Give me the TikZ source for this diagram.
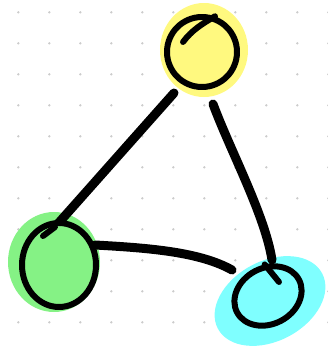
\documentclass[tikz,border=0pt]{standalone}
\usepackage{tikz}
\usetikzlibrary{shapes.geometric}
\definecolor{hlyellow}{HTML}{FFF97F}
\definecolor{hlgreen}{HTML}{85F285}
\definecolor{hlcyan}{HTML}{7FFFFF}
\begin{document}
\begin{tikzpicture}[x=1pt,y=-1pt,line cap=round,line join=round,
  blob/.style={ellipse,inner sep=0pt,fill=#1},
  ring/.style={ellipse,inner sep=0pt,draw=black,line width=6pt,fill=#1},
  stroke/.style={line width=9pt,black}]
\useasboundingbox (0,0) rectangle (328,351);
\foreach \i in {0,...,10}
  \foreach \j in {0,...,10}
    \fill[black!20] (18.3+31*\i,12.3+31*\j) circle (1.3);
\node[blob=hlyellow,minimum width=88pt,minimum height=94pt] (yblob) at (204,50) {};
\node[blob=hlgreen,minimum width=92pt,minimum height=100pt] (gblob) at (54,262) {};
\node[blob=hlcyan,minimum width=118pt,minimum height=80pt,rotate=28] (cblob) at (270,301) {};
\coordinate (y1) at (174,93);
\coordinate (g1) at (55,227);
\coordinate (y2) at (213,104);
\coordinate (c1) at (272,260);
\coordinate (g2) at (95,245);
\coordinate (c2) at (232,270);
\draw[stroke] (y1) -- (g1);
\draw[stroke] (y2) .. controls (230,150) and (265,215) .. (c1);
\draw[stroke] (g2) .. controls (150,248) and (200,252) .. (c2);
\node[ring=hlyellow,minimum width=70pt,minimum height=70pt] (Y) at (202,52) {};
\node[ring=hlgreen,minimum width=74pt,minimum height=84pt] (G) at (59,265) {};
\node[ring=hlcyan,minimum width=70pt,minimum height=56pt,rotate=28] (C) at (268,296) {};
\draw[line width=6pt] (183,42) .. controls (192,30) and (202,24) .. (Y.70);
\draw[line width=6pt] (43,236) -- (g1);
\draw[line width=6pt] (C.68) -- (279,282);
\end{tikzpicture}
\end{document}
